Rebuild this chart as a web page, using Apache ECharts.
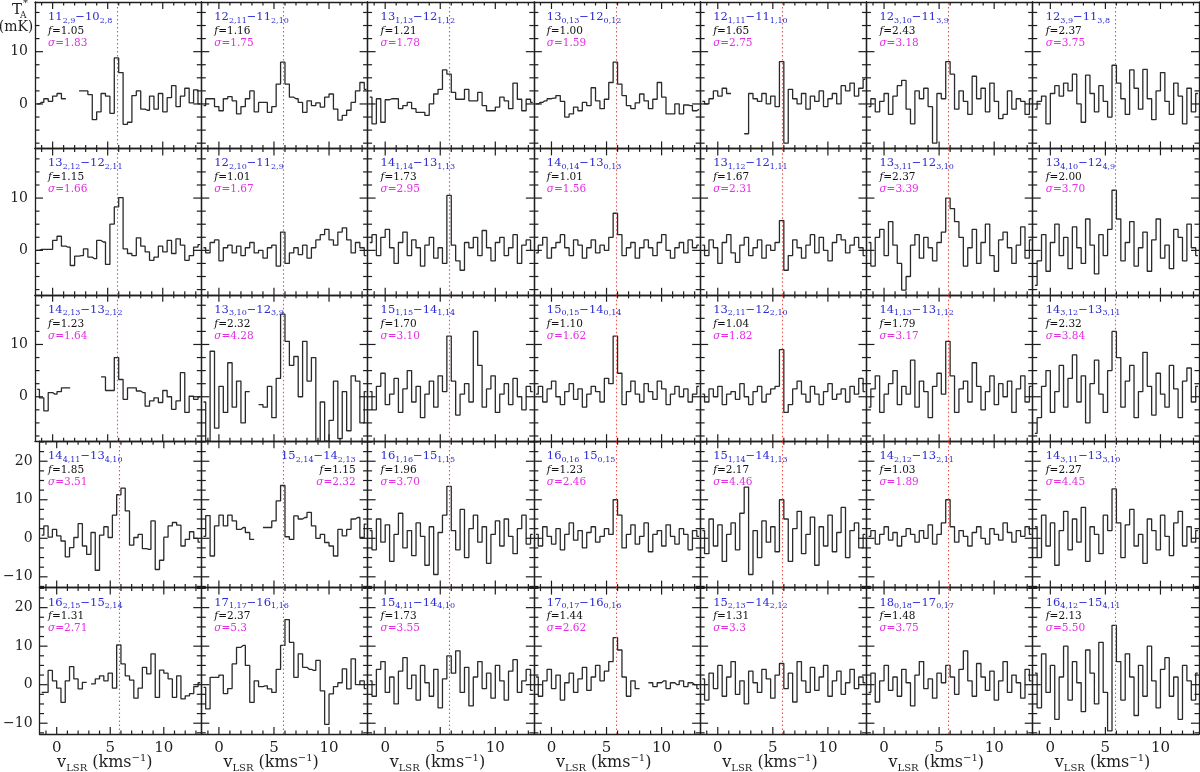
<!DOCTYPE html>
<html><head><meta charset="utf-8">
<script src="https://cdn.jsdelivr.net/npm/echarts@6/dist/echarts.min.js"></script>
<style>html,body{margin:0;padding:0;background:#fff}#c{width:1200px;height:772px}</style>
</head><body><div id="c"></div>
<script>
// channel velocities (km/s), shared by all spectra
const VELOCITY = [-1.4,-1.0,-0.6,-0.2,0.2,0.6,1.0,1.4,1.8,2.2,2.6,3.0,3.4,3.8,4.2,4.6,5.0,5.4,5.8,6.2,6.6,7.0,7.4,7.8,8.2,8.6,9.0,9.4,9.8,10.2,10.6,11.0,11.4,11.8,12.2,12.6,13.0,13.4];
const V_LSR = 5.85;
const X_RANGE = [-1.6, 13.5];
const Y_RANGE_UPPER = [-8.5, 19.5];
const Y_RANGE_LOWER = [-12.8, 25.2];
const X_MAJOR_TICKS = [0, 5, 10];
const X_MINOR_TICKS = [-1, 1, 2, 3, 4, 6, 7, 8, 9, 11, 12, 13];
const Y_MAJOR_UPPER = [0, 10];
const Y_MINOR_UPPER = [-7.5, -5, -2.5, 2.5, 5, 7.5, 12.5, 15, 17.5];
const Y_MAJOR_LOWER = [-10, 0, 10, 20];
const Y_MINOR_LOWER = [-12.5, -7.5, -5, -2.5, 2.5, 5, 7.5, 12.5, 15, 17.5, 22.5, 25];

// transitions: [J, Ka,Kc, separator, J', Ka',Kc']
const TRANSITIONS = [
 ["11","2,9","−","10","2,8"],["12","2,11","−","11","2,10"],["13","1,13","−","12","1,12"],["13","0,13","−","12","0,12"],["12","1,11","−","11","1,10"],["12","3,10","−","11","3,9"],["12","3,9","−","11","3,8"],
 ["13","2,12","−","12","2,11"],["12","2,10","−","11","2,9"],["14","1,14","−","13","1,13"],["14","0,14","−","13","0,13"],["13","1,12","−","12","1,11"],["13","3,11","−","12","3,10"],["13","4,10","−","12","4,9"],
 ["14","2,13","−","13","2,12"],["13","3,10","−","12","3,9"],["15","1,15","−","14","1,14"],["15","0,15","−","14","0,14"],["13","2,11","−","12","2,10"],["14","1,13","−","13","1,12"],["14","3,12","−","13","3,11"],
 ["14","4,11","−","13","4,10"],["15","2,14","−","14","2,13"],["16","1,16","−","15","1,15"],["16","0,16"," ","15","0,15"],["15","1,14","−","14","1,13"],["14","2,12","−","13","2,11"],["14","3,11","−","13","3,10"],
 ["16","2,15","−","15","2,14"],["17","1,17","−","16","1,16"],["15","4,11","−","14","4,10"],["17","0,17","−","16","0,16"],["15","2,13","−","14","2,12"],["18","0,18","−","17","0,17"],["16","4,12","−","15","4,11"]
];
const F_FACTORS = ["1.05","1.16","1.21","1.00","1.65","2.43","2.37","1.15","1.01","1.73","1.01","1.67","2.37","2.00","1.23","2.32","1.70","1.10","1.04","1.79","2.32","1.85","1.15","1.96","1.23","2.17","1.03","2.27","1.31","2.37","1.73","1.44","1.31","1.48","2.13"];
const SIGMAS = ["1.83","1.75","1.78","1.59","2.75","3.18","3.75","1.66","1.67","2.95","1.56","2.31","3.39","3.70","1.64","4.28","3.10","1.62","1.82","3.17","3.84","3.51","2.32","3.70","2.46","4.46","1.89","4.45","2.71","5.3","3.55","2.62","3.3","3.75","5.50"];
const RIGHT_ALIGNED_LABEL = [22];

// spectra (mK), one per panel, row by row
const S_R1C1 = [0,0.3,1.0,0.5,1.5,2.0,1.0,null,null,null,2.5,2.5,1.8,-3.0,-1.5,2.0,1.5,-1.8,8.8,6.0,-3.9,-3.5,1.6,2.5,-1.0,-1.2,1.5,-1.0,2.0,-1.5,1.2,3.5,-0.5,1.5,3.0,0.2,2.7,0];
const S_R1C2 = [-0.3,1.0,1.0,-0.5,-1.3,1.0,1.4,0.6,-1.9,-0.5,1.0,2.5,-1.5,0.3,0.3,-1.6,-0.5,3.8,8.0,3.8,1.3,1.0,0.3,-1.6,0.6,-0.3,0.2,-0.6,1.3,1.9,-1.0,-3.1,-2.2,-1.2,0.3,2.5,4.1,2.8];
const S_R1C3 = [1.3,-3.8,1.0,-3.5,0.8,1.0,1.0,-0.9,-0.3,0.3,-0.9,-1.6,-1.6,-2.2,0,1.9,2.8,6.5,5.7,2.2,0.9,0.9,2.8,0.6,0.6,2.2,-0.3,-1.3,-1.3,-0.6,1.3,0.6,-0.9,4.0,0.9,-1.3,0.9,0.3];
const S_R1C4 = [0,0.3,0.6,1.0,1.1,1.6,0.5,-2.5,-1.9,-0.6,-1.3,0.3,-0.3,3.1,0.6,-0.9,0.9,4.1,8.0,3.8,1.6,-0.3,-0.9,0.2,1.9,0.6,-0.9,0.9,4.1,1.3,-1.9,-1.9,0,-1.9,-0.2,-0.3,-1.3,-1.0];
const S_R1C5 = [0.5,0.0,1.0,2.5,1.5,3.0,2.0,null,null,null,-5.7,2.0,1.0,0.5,2.0,0.0,1.5,-0.5,8.1,-7.5,2.8,1.0,0.0,2.0,-1.0,1.5,0.5,2.5,-0.5,1.0,2.0,0.0,3.5,2.5,4.0,1.5,3.0,4.7];
const S_R1C6 = [-0.5,1.0,-1.5,0.5,2.0,-2.0,1.5,3.5,4.5,-1.0,-3.8,2.5,1.0,3.0,-0.5,-7.5,2.0,1.0,8.1,5.7,-1.0,2.5,0.5,-2.0,5.3,1.0,3.0,-1.5,4.0,0.5,-2.8,-2.0,2.5,-1.0,1.0,0.5,-2.0,1.0];
const S_R1C7 = [-1.0,0.5,1.5,-3.8,2.0,3.5,1.5,4.0,2.5,5.7,0.0,-3.5,5.5,2.0,-1.5,3.5,0.5,-2.5,7.4,4.0,1.0,-2.0,6.5,3.0,-1.0,6.6,1.0,-3.0,2.5,6.0,0.5,-2.0,4.0,1.5,-3.8,3.0,-1.5,2.0];
const S_R2C1 = [0,0.2,0.2,0.2,1.9,2.7,0.8,0.6,-2.9,-1.1,-1.0,0.3,-1.3,-1.6,1.9,1.6,-2.7,5.0,8.3,10.1,0.3,-0.6,-1.0,2.4,0.8,-0.3,-1.9,-1.3,0.8,-0.3,1.9,-0.6,2.2,1.0,-1.9,-1.0,0.6,1.1];
const S_R2C2 = [0.5,-0.5,1.5,2.0,-2.0,0.5,1.0,-0.5,0.8,-1.0,0.5,1.5,-0.5,0.0,-1.5,0.5,1.0,-3.0,3.5,-2.5,-0.5,0.5,-0.8,1.0,-1.5,0.5,2.0,3.0,4.0,2.0,1.0,3.5,4.3,2.0,-0.5,1.5,0.5,-1.0];
const S_R2C3 = [1.5,3.0,-1.0,2.5,4.0,0.5,-2.5,1.5,3.5,-1.0,2.0,0.5,-3.0,1.0,2.5,-1.5,0.5,-2.5,10.5,1.0,-2.0,-3.8,1.5,0.5,2.5,-1.0,3.8,0.5,-2.0,1.5,2.5,-1.0,0.5,3.0,-2.5,1.0,2.0,0.0];
const S_R2C4 = [-0.5,1.0,2.5,-1.5,0.5,1.5,3.0,0.5,-1.0,2.0,1.0,-1.5,0.5,2.0,-0.5,1.0,0.0,2.5,7.1,3.0,-1.0,0.5,1.5,-1.5,0.5,2.0,0.5,-1.0,1.5,3.0,0.0,-1.5,0.5,1.5,-0.5,2.0,0.5,1.0];
const S_R2C5 = [1.0,-1.0,2.0,0.5,-2.5,1.5,3.0,-0.5,-2.3,1.0,2.5,-1.0,0.5,2.0,-1.5,1.0,0.0,1.5,5.7,-3.8,-1.0,2.0,0.5,-1.5,1.0,3.0,-0.5,2.5,0.0,-2.0,1.5,3.0,2.0,-0.5,1.0,2.5,0.5,-1.0];
const S_R2C6 = [1.5,-3.0,2.5,4.0,-1.0,5.5,1.0,-2.5,-7.6,-5.0,1.0,3.0,-1.5,2.5,0.5,-2.0,1.5,3.5,10.0,8.0,5.5,2.5,-3.0,0.5,4.0,-2.5,1.5,5.0,-1.0,-4.0,2.0,3.5,0.5,-2.5,1.0,4.5,-1.5,2.0];
const S_R2C7 = [-6.7,-2.0,3.0,-4.0,1.5,5.0,-1.0,2.5,-3.5,4.5,0.5,-2.5,6.0,1.0,-4.5,3.0,-1.0,4.0,11.5,6.0,-2.0,1.5,5.5,-3.0,0.5,3.5,-4.0,2.0,6.0,-1.5,1.0,-3.5,4.0,2.5,-2.0,5.0,0.5,-1.0];
const S_R3C1 = [1.4,-0.2,-2.7,0.8,0.5,1.0,1.7,1.7,null,null,null,null,null,null,null,3.8,1.2,1.2,7.5,3.3,-0.5,1.7,1.7,1.1,0.8,-1.8,-0.8,-0.2,-1.1,1.2,0.0,-2.4,-0.8,4.6,-3.0,0.1,-0.5,0];
const S_R3C2 = [-1.0,-8.5,8.7,-6.0,2.0,-3.0,6.5,-2.0,3.0,-5.0,1.0,null,null,-1.5,-2.0,2.0,-4.0,3.5,15.8,10.6,6.0,7.7,0.0,10.6,3.0,7.5,-8.5,-1.0,-8.5,-4.5,3.0,-8.0,1.0,-6.5,4.0,3.0,-5.0,1.0];
const S_R3C3 = [1.0,-2.5,2.0,4.5,-1.5,0.5,3.5,-3.0,1.5,5.0,-1.0,2.0,-4.0,0.5,3.0,-2.0,4.0,1.0,11.6,3.0,-3.5,0.5,2.5,-1.0,12.5,6.0,-2.0,1.5,4.0,-3.0,0.5,2.5,-1.5,3.5,0.0,-2.5,2.0,1.0];
const S_R3C4 = [0.5,2.0,-1.0,1.5,3.0,0.0,-1.5,1.0,2.5,-0.5,1.5,-2.0,0.5,2.0,1.0,-1.0,3.5,2.5,11.6,4.5,-1.5,1.0,3.0,0.5,-1.0,2.5,1.0,-0.5,3.0,1.5,-1.5,0.5,2.0,0.0,1.5,-1.0,0.5,2.0];
const S_R3C5 = [0.5,-1.0,1.5,0.0,2.0,-1.5,0.5,1.0,-0.5,2.5,0.0,-1.5,1.0,2.0,-1.0,0.5,1.5,2.0,9.0,-3.0,-1.5,1.5,3.0,0.5,-1.0,2.0,0.5,-1.5,1.0,2.5,-0.5,0.5,1.5,-1.0,2.0,0.5,3.5,1.0];
const S_R3C6 = [-2.0,1.5,4.0,-3.0,0.5,2.5,5.0,-1.5,2.0,0.5,7.0,-2.0,3.0,1.0,-4.0,2.0,4.5,0.5,10.6,4.0,-3.0,1.5,3.0,-1.0,6.5,2.0,-2.5,1.0,4.0,-1.5,2.5,0.0,3.0,-3.0,1.5,4.0,-1.0,2.0];
const S_R3C7 = [-7.0,-4.0,2.0,5.0,-3.0,1.0,6.0,-2.0,3.5,8.0,-1.0,4.0,-5.0,2.5,7.0,0.5,-3.0,5.0,12.5,7.5,-2.0,3.0,6.0,-4.0,1.0,8.5,2.0,-3.5,4.5,0.5,-2.0,6.0,1.5,-4.0,3.0,5.5,-1.0,2.0];
const S_R4C1 = [0.8,3.2,0.3,2.3,0.6,-0.7,-4.8,-2.4,0.2,3.8,-2.0,-4.2,1.5,-8.3,0.8,3.0,0.2,6.0,11.3,13.0,7.1,-1.8,0.2,1.0,-2.7,-2.9,4.5,-8.1,-5.7,0.3,3.2,4.1,3.4,-2.0,-0.3,1.7,0,-1.0];
const S_R4C2 = [0.5,5.9,-4.6,3.2,6.0,3.2,6.0,4.5,2.3,2.8,1.5,-0.3,null,null,2.8,2.8,4.5,9.7,13.7,0.4,-0.3,5.8,5.0,5.4,6.7,3.2,0,1.0,-1.1,-2.0,-4.6,2.3,0.6,2.3,5.0,5.4,0.2,3.7];
const S_R4C3 = [2.0,-3.0,5.0,-1.0,3.5,-6.0,1.0,6.5,-2.5,2.0,-4.5,4.0,0.5,-7.0,3.0,-9.4,1.5,6.0,13.5,2.0,-3.0,7.5,-5.0,2.5,6.0,-1.0,3.0,-6.5,1.0,4.5,-2.0,5.0,0.5,-4.0,2.5,6.0,-1.5,1.0];
const S_R4C4 = [1.0,-2.0,3.0,0.5,-1.5,2.5,-3.0,1.0,4.0,-0.5,2.0,-2.5,1.5,3.0,-1.0,0.5,2.5,1.0,10.0,6.0,-2.5,1.0,3.5,-1.5,0.5,4.0,-3.5,1.0,2.0,-2.0,3.5,0.5,-1.5,2.5,1.0,-3.0,2.0,0.5];
const S_R4C5 = [2.0,-4.0,5.0,-2.0,3.5,-6.0,1.0,4.0,-3.0,6.5,13.3,-9.4,2.0,-5.0,4.5,-1.0,3.0,-3.5,10.0,5.0,-6.0,2.5,7.0,-4.0,1.0,5.5,-7.0,3.0,-2.0,6.0,-3.5,1.5,8.0,-5.0,2.0,4.0,-2.5,1.0];
const S_R4C6 = [0.5,2.0,-1.5,1.0,3.0,-0.5,1.5,-2.0,0.5,2.5,1.0,-1.0,2.0,0.0,3.5,-1.5,1.0,4.0,10.0,3.0,-1.0,2.0,0.5,-2.0,1.5,3.0,0.0,-1.5,2.5,1.0,-0.5,4.0,1.5,-1.0,2.0,0.5,3.0,1.0];
const S_R4C7 = [3.0,-5.0,6.0,-2.0,4.0,-7.0,2.0,7.0,-3.0,5.0,-1.0,8.0,-6.0,3.0,1.0,-4.0,6.0,2.0,12.8,4.0,-5.0,3.5,7.5,-2.0,1.0,-6.5,5.0,2.0,-3.0,6.0,0.5,-4.5,4.0,7.0,-2.0,3.0,-1.0,2.0];
const S_R5C1 = [-2.0,-2.0,3.7,1.0,-0.9,-4.6,1.0,4.7,1.5,-1.1,0.6,null,0.2,1.5,2.3,1.0,3.0,-0.9,10.3,5.4,2.3,1.2,-3.5,-0.9,4.5,2.8,8.0,-3.3,3.8,3.0,1.5,-3.3,2.3,-3.7,-2.9,-2.3,-0.5,0.5];
const S_R5C2 = [-0.7,-6.3,1.9,1.9,2.5,-2.3,-1.0,5.4,9.7,10.2,5.0,-4.6,1.0,-0.5,-0.3,-1.1,-2.0,4.0,10.2,16.9,11.0,1.9,8.0,4.5,4.0,3.7,6.3,-1.6,-10.3,-2.4,-0.5,0.5,4.1,-1.1,6.7,0,1.0,-1.0];
const S_R5C3 = [1.0,-3.0,4.0,6.0,-2.0,2.0,-5.0,3.5,7.0,-1.0,2.5,-4.0,5.0,0.5,-3.0,4.0,-6.0,1.5,7.5,3.0,8.8,-2.0,4.5,-5.5,2.0,6.0,-1.0,3.0,-3.5,5.0,1.0,-4.0,3.5,6.5,-2.0,1.0,4.0,-1.5];
const S_R5C4 = [2.0,-3.0,1.0,4.0,-1.0,2.5,-4.0,0.5,3.0,-2.0,1.5,4.5,-1.5,2.0,5.0,1.0,3.5,6.0,12.2,9.0,2.0,-3.0,1.0,-1.0,null,null,0.5,-0.5,0.5,1.0,-1.0,0.5,0.0,1.0,-0.5,0.5,0.0,-1.0];
const S_R5C5 = [1.5,-4.0,3.0,-1.0,5.0,-3.0,2.0,6.0,-2.5,1.0,-5.0,3.5,0.5,-2.0,4.0,1.5,-3.5,2.5,5.5,-1.0,3.0,-4.5,6.0,1.0,-2.0,4.5,-1.5,2.0,5.0,-3.0,1.0,3.5,-2.5,0.5,4.0,-1.0,2.0,0.5];
const S_R5C6 = [-2.0,3.0,-4.5,1.0,5.0,-1.5,2.0,-3.0,4.0,0.5,-5.5,2.5,6.0,-1.0,1.5,-3.5,3.0,0.5,5.0,2.0,-2.5,4.0,8.8,1.0,-3.0,5.5,2.0,-1.5,3.5,-4.0,1.0,6.0,-2.0,2.5,0.5,-3.5,4.0,1.0];
const S_R5C7 = [3.0,-6.0,8.0,-2.0,5.0,-9.0,2.0,10.0,-4.0,6.0,0.5,-7.0,9.0,3.0,-5.0,11.0,-2.0,-12.0,15.4,6.0,-4.0,8.0,2.0,-8.0,5.0,-3.0,10.0,1.0,-6.0,4.0,7.0,-3.0,2.0,-9.0,5.0,1.0,-4.0,3.0];

const SPECTRA = [
  S_R1C1,S_R1C2,S_R1C3,S_R1C4,S_R1C5,S_R1C6,S_R1C7,
  S_R2C1,S_R2C2,S_R2C3,S_R2C4,S_R2C5,S_R2C6,S_R2C7,
  S_R3C1,S_R3C2,S_R3C3,S_R3C4,S_R3C5,S_R3C6,S_R3C7,
  S_R4C1,S_R4C2,S_R4C3,S_R4C4,S_R4C5,S_R4C6,S_R4C7,
  S_R5C1,S_R5C2,S_R5C3,S_R5C4,S_R5C5,S_R5C6,S_R5C7
];

// ---------- layout ----------
const NC = 7, NR = 5;
const L0 = 35, T0 = 2, R0 = 1199, B0 = 734;
const PW = (R0 - L0) / NC, PH = (B0 - T0) / NR;
const AXIS_FONT = 'DejaVu Serif';
const LABEL_FONT = 'DejaVu Serif';
const INK = '#1e1e1e';
const BLUE = '#2b2bd4', MAGENTA = '#e62ee6';

const grids = [], xAxes = [], yAxes = [], series = [], graphics = [];

function xAxisDef(gi, pos, showLabel) {
  return {
    gridIndex: gi, type: 'value', position: pos, min: X_RANGE[0], max: X_RANGE[1],
    axisLine: { show: true, onZero: false, lineStyle: { color: INK, width: 1.3 } },
    axisTick: { show: false },
    axisLabel: { show: showLabel, customValues: X_MAJOR_TICKS, fontFamily: AXIS_FONT, fontSize: 15, color: INK, margin: 7 },
    splitLine: { show: false }
  };
}
function yAxisDef(gi, pos, range, ticks, showLabel) {
  return {
    gridIndex: gi, type: 'value', position: pos, min: range[0], max: range[1],
    axisLine: { show: true, onZero: false, lineStyle: { color: INK, width: 1.3 } },
    axisTick: { show: false },
    axisLabel: { show: showLabel, customValues: ticks, fontFamily: AXIS_FONT, fontSize: 14, color: INK, margin: 7,
      formatter: v => String(v).replace('-', '−') },
    splitLine: { show: false }
  };
}

// tick marks drawn inside every frame side, placed through the axis scales
function tickSeries(xi, yi, yr, yMaj, yMin) {
  const data = [];
  X_MAJOR_TICKS.forEach(v => data.push([v, 0, 1]));
  X_MINOR_TICKS.forEach(v => data.push([v, 0, 0]));
  yMaj.forEach(v => data.push([v, 1, 1]));
  yMin.forEach(v => data.push([v, 1, 0]));
  return {
    type: 'custom', xAxisIndex: xi, yAxisIndex: yi, silent: true, clip: false, animation: false, z: 4,
    encode: { x: 0, y: 1 },
    data: data,
    renderItem: function (params, api) {
      const v = api.value(0), isY = api.value(1) === 1, major = api.value(2) === 1;
      const cs = params.coordSys;
      const st = () => ({ stroke: INK, lineWidth: 1.2 });
      if (!isY) {
        const x = api.coord([v, yr[0]])[0];
        const len = major ? 7 : 3.5;
        const yb = cs.y + cs.height, yt = cs.y;
        return { type: 'group', children: [
          { type: 'line', shape: { x1: x, y1: yb, x2: x, y2: yb - len }, style: st() },
          { type: 'line', shape: { x1: x, y1: yt, x2: x, y2: yt + len }, style: st() }
        ] };
      }
      const y = api.coord([X_RANGE[0], v])[1];
      const len = major ? 8 : 4.5;
      const xl = cs.x, xr = cs.x + cs.width;
      return { type: 'group', children: [
        { type: 'line', shape: { x1: xl, y1: y, x2: xl + len, y2: y }, style: st() },
        { type: 'line', shape: { x1: xr, y1: y, x2: xr - len, y2: y }, style: st() }
      ] };
    }
  };
}

const RICH = {
  n: { fontFamily: LABEL_FONT, fontSize: 11.5, lineHeight: 15, verticalAlign: 'middle', fill: BLUE },
  s: { fontFamily: LABEL_FONT, fontSize: 8, lineHeight: 9, verticalAlign: 'bottom', fill: BLUE },
  fi: { fontFamily: LABEL_FONT, fontSize: 10.5, fontStyle: 'italic', fill: '#111' },
  fv: { fontFamily: LABEL_FONT, fontSize: 10.5, fill: '#111' },
  si: { fontFamily: LABEL_FONT, fontSize: 10.5, fontStyle: 'italic', fill: MAGENTA },
  sv: { fontFamily: LABEL_FONT, fontSize: 10.5, fill: MAGENTA }
};

for (let r = 0; r < NR; r++) {
  for (let c = 0; c < NC; c++) {
    const k = r * NC + c;
    const left = L0 + c * PW, top = T0 + r * PH;
    grids.push({ left: left, top: top, width: PW, height: PH, containLabel: false, show: false });
    const yr = r < 3 ? Y_RANGE_UPPER : Y_RANGE_LOWER;
    const yMaj = r < 3 ? Y_MAJOR_UPPER : Y_MAJOR_LOWER;
    const yMin = r < 3 ? Y_MINOR_UPPER : Y_MINOR_LOWER;
    const xBase = xAxes.length, yBase = yAxes.length;
    xAxes.push(xAxisDef(k, 'bottom', r === NR - 1));
    xAxes.push(xAxisDef(k, 'top', false));
    yAxes.push(yAxisDef(k, 'left', yr, yMaj, c === 0));
    yAxes.push(yAxisDef(k, 'right', yr, yMaj, false));
    const vals = SPECTRA[k];
    series.push({
      type: 'line', xAxisIndex: xBase, yAxisIndex: yBase, step: 'middle',
      showSymbol: false, symbol: 'none', connectNulls: false, animation: false, silent: true, z: 3,
      lineStyle: { color: '#2a2a2a', width: 1.3 },
      data: VELOCITY.map((v, i) => [v, vals[i]]),
      markLine: {
        silent: true, symbol: ['none', 'none'], label: { show: false }, animation: false,
        lineStyle: { color: '#e5534b', type: [1.5, 2.5], width: 1.1 },
        data: [{ xAxis: V_LSR }]
      }
    });
    series.push(tickSeries(xBase, yBase, yr, yMaj, yMin));
    const t = TRANSITIONS[k];
    const rightAligned = RIGHT_ALIGNED_LABEL.indexOf(k) >= 0;
    const tx = rightAligned ? left + PW - 12 : left + 13;
    const al = rightAligned ? 'right' : 'left';
    graphics.push({ type: 'text', z: 10, style: {
      x: tx, y: top + 15, align: al, verticalAlign: 'middle',
      text: '{n|' + t[0] + '}{s|' + t[1] + '}{n|' + t[2] + t[3] + '}{s|' + t[4] + '}', rich: RICH } });
    graphics.push({ type: 'text', z: 10, style: {
      x: tx, y: top + 29, align: al, verticalAlign: 'middle',
      text: '{fi|f}{fv|=' + F_FACTORS[k] + '}', rich: RICH } });
    graphics.push({ type: 'text', z: 10, style: {
      x: tx, y: top + 41, align: al, verticalAlign: 'middle',
      text: '{si|σ}{sv|=' + SIGMAS[k] + '}', rich: RICH } });
  }
}

const XT_RICH = {
  n: { fontFamily: AXIS_FONT, fontSize: 16, lineHeight: 20, verticalAlign: 'middle', fill: INK },
  s: { fontFamily: AXIS_FONT, fontSize: 10, lineHeight: 10, verticalAlign: 'bottom', fill: INK },
  p: { fontFamily: AXIS_FONT, fontSize: 10, lineHeight: 10, verticalAlign: 'top', fill: INK }
};
for (let c = 0; c < NC; c++) {
  graphics.push({ type: 'text', style: {
    x: L0 + c * PW + PW * 0.42, y: 763, align: 'center', verticalAlign: 'middle',
    text: '{n|v}{s|LSR}{n| (kms}{p|−1}{n|)}', rich: XT_RICH } });
}
graphics.push({ type: 'text', style: { x: 17, y: 10, align: 'center', verticalAlign: 'middle', text: 'T', fontFamily: AXIS_FONT, fontSize: 15, fill: INK } });
graphics.push({ type: 'text', style: { x: 23, y: 3, align: 'left', verticalAlign: 'middle', text: '*', fontFamily: AXIS_FONT, fontSize: 10, fill: INK } });
graphics.push({ type: 'text', style: { x: 20, y: 16, align: 'left', verticalAlign: 'middle', text: 'A', fontFamily: AXIS_FONT, fontSize: 9, fill: INK } });
graphics.push({ type: 'text', style: { x: 16, y: 27, align: 'center', verticalAlign: 'middle', text: '(mK)', fontFamily: AXIS_FONT, fontSize: 14, fill: INK } });

const chart = echarts.init(document.getElementById('c'), null, { renderer: 'canvas' });
chart.setOption({
  animation: false,
  backgroundColor: '#fff',
  grid: grids, xAxis: xAxes, yAxis: yAxes, series: series, graphic: graphics
});
</script></body></html>
